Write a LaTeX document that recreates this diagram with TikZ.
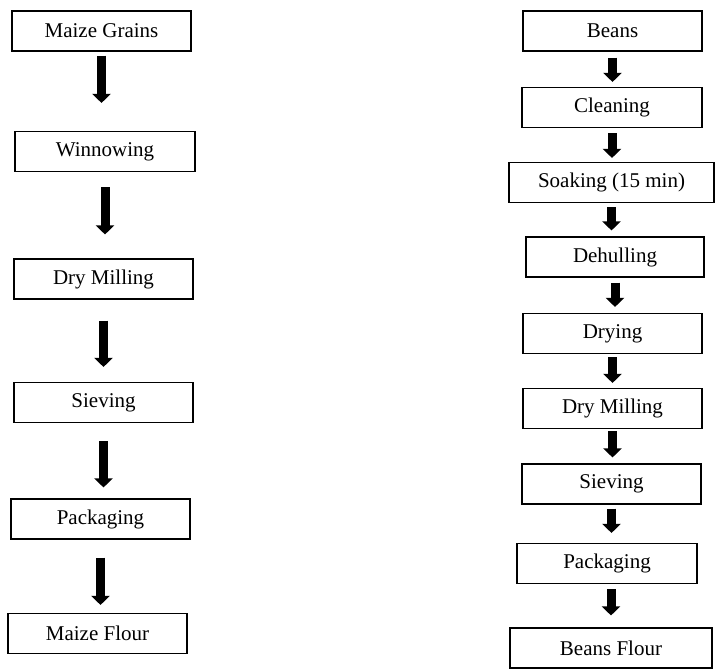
\documentclass[tikz,border=0pt]{standalone}
\usepackage{fontspec}
\setmainfont{Liberation Serif}
\usetikzlibrary{arrows.meta}
\begin{document}
\begin{tikzpicture}[x=1pt, y=-1pt,
    hop/.style={draw, line width=1.1pt, minimum height=40pt, inner sep=0pt,
        font=\fontsize{21}{25}\selectfont},
    mui/.style={line width=9pt, -{Triangle[width=18pt, length=9pt]}}]
    \useasboundingbox (0,0) rectangle (728,670);

    % ==================== CỘT TRÁI: BỘT NGÔ ====================
    \node[hop, minimum width=179pt] (mg)  at (101.5,31)    {Maize Grains};
    \node[hop, minimum width=180pt] (win) at (105,151.5)   {Winnowing};
    \node[hop, minimum width=179pt] (dm)  at (103.5,279)   {Dry Milling};
    \node[hop, minimum width=179pt] (sv)  at (103.5,402.5) {Sieving};
    \node[hop, minimum width=179pt] (pk)  at (100.5,519)   {Packaging};
    \node[hop, minimum width=179pt] (mf)  at (97.5,633.5)  {Maize Flour};

    % Mũi tên giữa các bước
    \draw[mui, shorten <=4pt,  shorten >=28pt] (mg.south)  -- (mg.south |- win.north);
    \draw[mui, shorten <=15pt, shorten >=24pt] (win.south) -- (win.south |- dm.north);
    \draw[mui, shorten <=21pt, shorten >=15pt] (dm.south)  -- (dm.south |- sv.north);
    \draw[mui, shorten <=18pt, shorten >=11pt] (sv.south)  -- (sv.south |- pk.north);
    \draw[mui, shorten <=18pt, shorten >=8pt]  (pk.south)  -- (pk.south |- mf.north);

    % ==================== CỘT PHẢI: BỘT ĐẬU ====================
    \node[hop, minimum width=179pt] (bn)  at (612.5,31)    {Beans};
    \node[hop, minimum width=180pt] (cl)  at (612,107.5)   {Cleaning};
    \node[hop, minimum width=205pt] (sk)  at (611.5,182.5) {Soaking (15 min)};
    \node[hop, minimum width=178pt] (dh)  at (615,257)     {Dehulling};
    \node[hop, minimum width=179pt] (dr)  at (612.5,333.5) {Drying};
    \node[hop, minimum width=179pt] (rdm) at (612.5,408.5) {Dry Milling};
    \node[hop, minimum width=179pt] (rsv) at (611.5,484)   {Sieving};
    \node[hop, minimum width=180pt] (rpk) at (607,563.5)   {Packaging};
    \node[hop, minimum width=202pt] (bf)  at (611,648)     {Beans Flour};

    % Mũi tên ngắn
    \draw[mui, shorten <=6pt, shorten >=5pt]  (bn.south)  -- (bn.south |- cl.north);
    \draw[mui, shorten <=5pt, shorten >=4pt]  (cl.south)  -- (cl.south |- sk.north);
    \draw[mui, shorten <=4pt, shorten >=6pt]  (sk.south)  -- (sk.south |- dh.north);
    \draw[mui, shorten <=5pt, shorten >=6pt]  (dh.south)  -- (dh.south |- dr.north);
    \draw[mui, shorten <=3pt, shorten >=5pt]  (dr.south)  -- (dr.south |- rdm.north);
    \draw[mui, shorten <=2pt, shorten >=6pt]  (rdm.south) -- (rdm.south |- rsv.north);
    \draw[mui, shorten <=4pt, shorten >=10pt] (rsv.south) -- (rsv.south |- rpk.north);
    \draw[mui, shorten <=5pt, shorten >=12pt] (bf.north |- rpk.south) -- (bf.north);
\end{tikzpicture}
\end{document}
